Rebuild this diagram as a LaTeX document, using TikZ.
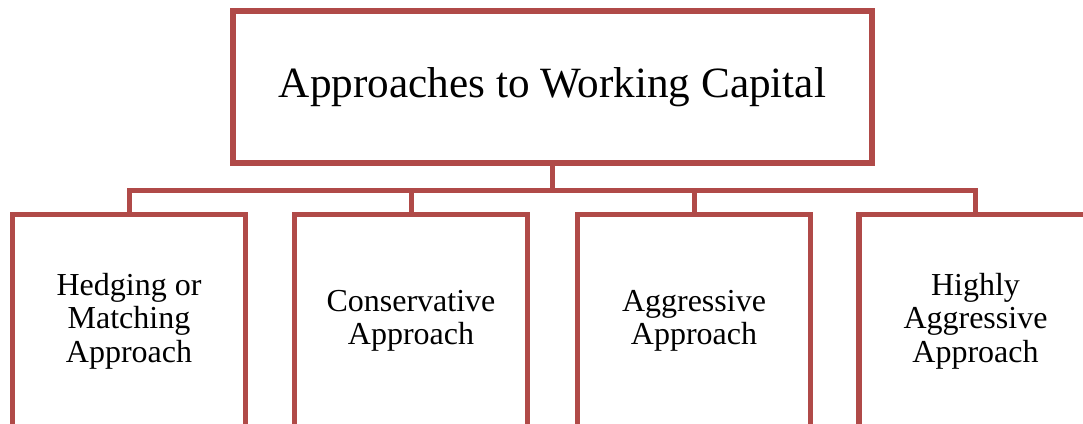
\documentclass[tikz,border=0pt]{standalone}
\usepackage{fontspec}
\setmainfont{Liberation Serif}
\usepackage{tikz}
\usetikzlibrary{positioning}

\definecolor{boxred}{RGB}{176,74,72}

\begin{document}
\begin{tikzpicture}[x=1pt, y=-1pt]
    \tikzset{
        titlebox/.style={draw=boxred, line width=5.5pt, fill=white,
            minimum width=639pt, minimum height=152pt,
            font=\fontsize{43.2}{46}\selectfont},
        kindbox/.style={draw=boxred, line width=5.5pt, fill=white,
            minimum width=233pt, minimum height=213pt, align=center,
            font=\fontsize{32}{33.5}\selectfont},
        link/.style={draw=boxred, line width=5pt}
    }

    % Fix the page to the picture's size
    \useasboundingbox (0, 0) rectangle (1083, 423);
    \clip (0, 0) rectangle (1083, 423);

    % Draw the heading
    \node[titlebox] (title) at (552.5, 87) {Approaches to Working Capital};

    % Draw the four approaches
    \node[kindbox] (hedging) at (129, 321) {Hedging or\\Matching\\Approach};
    \node[kindbox] (conservative) at (411, 321) {Conservative\\Approach};
    \node[kindbox] (aggressive) at (694, 321) {Aggressive\\Approach};
    \node[kindbox] (highly) at (975.5, 321) {Highly\\Aggressive\\Approach};

    % Draw the connectors
    \coordinate (bus) at (552.5, 190);
    \draw[link] (title.south) -- (bus);
    \draw[link] (hedging.north) |- (bus);
    \draw[link] (conservative.north) |- (bus);
    \draw[link] (aggressive.north) |- (bus);
    \draw[link] (highly.north) |- (bus);
\end{tikzpicture}
\end{document}
